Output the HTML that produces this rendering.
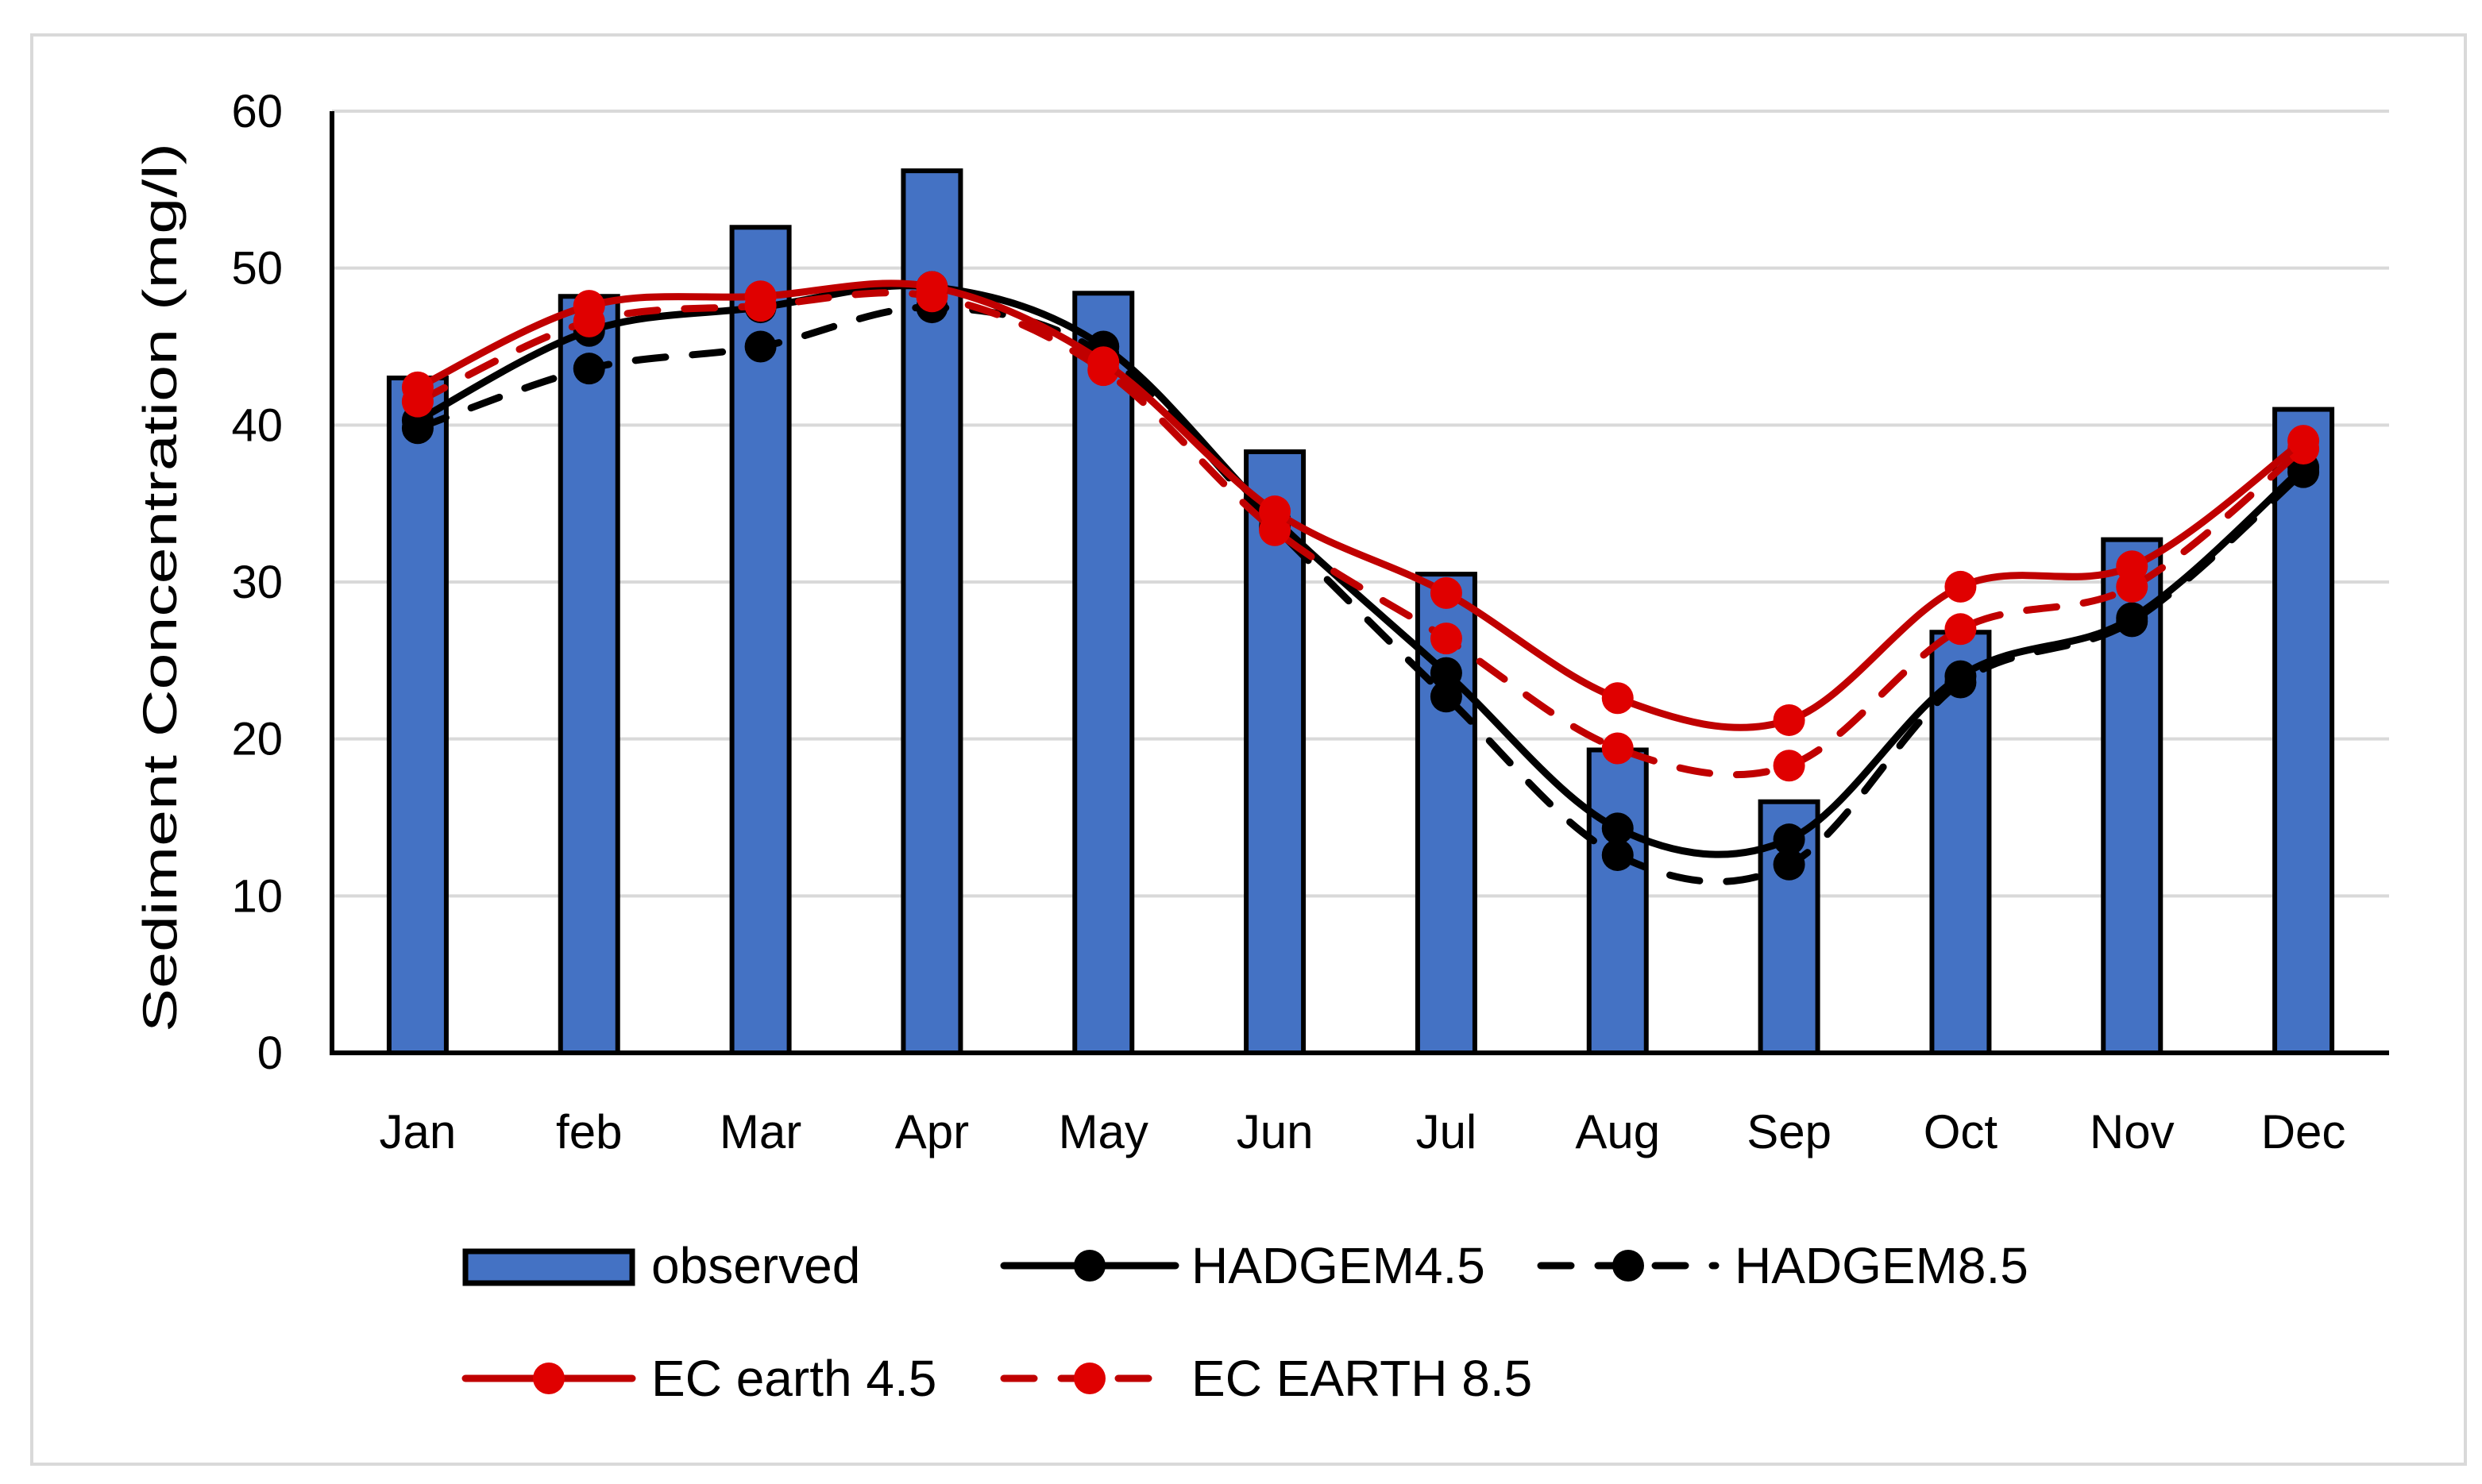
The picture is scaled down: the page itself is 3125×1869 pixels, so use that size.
<!DOCTYPE html>
<html><head><meta charset="utf-8"><style>html,body{margin:0;padding:0;background:#fff}svg{display:block}</style></head>
<body>
<svg id="chart" width="3125" height="1869" viewBox="0 0 3125 1869" xmlns="http://www.w3.org/2000/svg" font-family="'Liberation Sans', sans-serif">
<rect x="40" y="44" width="3064" height="1800" fill="#fff" stroke="#d9d9d9" stroke-width="4"/>
<g id="grid"></g>
<g id="bars"></g>
<g id="lines"></g>
<g id="axes"></g>
<text transform="translate(222,740) rotate(-90)" text-anchor="middle" font-size="60" textLength="1120" lengthAdjust="spacingAndGlyphs">Sediment Concentration (mg/l)</text>
<g font-size="64">
 <g>
  <rect x="586" y="1576" width="210" height="40" fill="#4472c4" stroke="#000" stroke-width="7"/>
  <text x="820" y="1616">observed</text></g>
 <g>
  <line x1="1264" y1="1594" x2="1480" y2="1594" stroke="#000" stroke-width="9" stroke-linecap="round"/>
  <circle cx="1372" cy="1594" r="20" fill="#000"/>
  <text x="1500" y="1616">HADGEM4.5</text></g>
 <g>
  <line x1="1940" y1="1594" x2="2160" y2="1594" stroke="#000" stroke-width="9" stroke-dasharray="38,34" stroke-linecap="round"/>
  <circle cx="2050" cy="1594" r="20" fill="#000"/>
  <text x="2184" y="1616">HADGEM8.5</text></g>
 <g>
  <line x1="586" y1="1736" x2="796" y2="1736" stroke="#c00000" stroke-width="9" stroke-linecap="round"/>
  <circle cx="691" cy="1736" r="20" fill="#e00000"/>
  <text x="820" y="1758">EC earth 4.5</text></g>
 <g>
  <line x1="1264" y1="1736" x2="1480" y2="1736" stroke="#c00000" stroke-width="9" stroke-dasharray="38,34" stroke-linecap="round"/>
  <circle cx="1372" cy="1736" r="20" fill="#e00000"/>
  <text x="1500" y="1758">EC EARTH 8.5</text></g>
</g>
</svg>
<script>
const categories=["Jan","feb","Mar","Apr","May","Jun","Jul","Aug","Sep","Oct","Nov","Dec"];
const observed=[43,48.2,52.6,56.2,48.4,38.3,30.5,19.3,16,26.8,32.7,41];
const hadgem45=[40.3,46,47.5,48.8,45,34,24.2,14.3,13.6,24,27.7,37.3];
const hadgem85=[39.8,43.6,45,47.5,44.5,33.5,22.7,12.6,12,23.6,27.5,37];
const ecEarth45=[42.4,47.6,48.2,48.8,44,34.5,29.3,22.6,21.2,29.7,31,39];
const ecEarth85=[41.5,46.6,47.6,48.2,43.5,33.3,26.4,19.4,18.3,27,29.7,38.5];
const yTicks=[0,10,20,30,40,50,60];
const NS="http://www.w3.org/2000/svg";
const L=418,R=3008,T=140,B=1326,yMax=60;
const band=(R-L)/categories.length;
const xS=i=>L+band*(i+0.5);
const yS=v=>B-(v/yMax)*(B-T);
function mk(tag,attrs,parent){const e=document.createElementNS(NS,tag);for(const k in attrs)e.setAttribute(k,attrs[k]);parent.appendChild(e);return e;}
const grid=document.getElementById('grid'),bars=document.getElementById('bars'),lines=document.getElementById('lines'),axes=document.getElementById('axes');
yTicks.forEach(t=>{
 if(t>0){const g=mk('line',{x1:L,x2:R,y1:yS(t),y2:yS(t),stroke:'#d9d9d9','stroke-width':4},grid);
 
 }
 const tx=mk('text',{x:L-62,y:yS(t)+20,'text-anchor':'end','font-size':58},axes);
 tx.textContent=t;
 
 
});
observed.forEach((v,i)=>{
 const w=72;
 const r=mk('rect',{x:xS(i)-w/2,y:yS(v),width:w,height:B-yS(v),fill:'#4472c4',stroke:'#000','stroke-width':6},bars);
 
 
});
categories.forEach((c,i)=>{
 const tx=mk('text',{x:xS(i),y:1446,'text-anchor':'middle','font-size':60},axes);
 tx.textContent=c;
 
 
});
const ax=mk('path',{d:`M${L},${T} L${L},${B} L${R},${B}`,fill:'none',stroke:'#000','stroke-width':6},axes);


function smooth(pts){let d=`M${pts[0][0]},${pts[0][1]}`;
 for(let i=0;i<pts.length-1;i++){const p0=pts[Math.max(i-1,0)],p1=pts[i],p2=pts[i+1],p3=pts[Math.min(i+2,pts.length-1)];
 const c1=[p1[0]+(p2[0]-p0[0])/6,p1[1]+(p2[1]-p0[1])/6],c2=[p2[0]-(p3[0]-p1[0])/6,p2[1]-(p3[1]-p1[1])/6];
 d+=` C${c1[0]},${c1[1]} ${c2[0]},${c2[1]} ${p2[0]},${p2[1]}`;}return d;}
function series(vals,stroke,fill,dash,name){
 const g=mk('g',{},lines);
 
 
 const pts=vals.map((v,i)=>[xS(i),yS(v)]);
 const p=mk('path',{d:smooth(pts),fill:'none',stroke:stroke,'stroke-width':9,'stroke-linecap':'round'},g);
 if(dash)p.setAttribute('stroke-dasharray','38,34');
 
 
 pts.forEach(q=>{const c=mk('circle',{cx:q[0],cy:q[1],r:20,fill:fill},g);
 
 });
}
series(hadgem85,'#000','#000',true,'hadgem85');
series(hadgem45,'#000','#000',false,'hadgem45');
series(ecEarth85,'#c00000','#e00000',true,'ec-earth85');
series(ecEarth45,'#c00000','#e00000',false,'ec-earth45');
</script>
</body></html>
